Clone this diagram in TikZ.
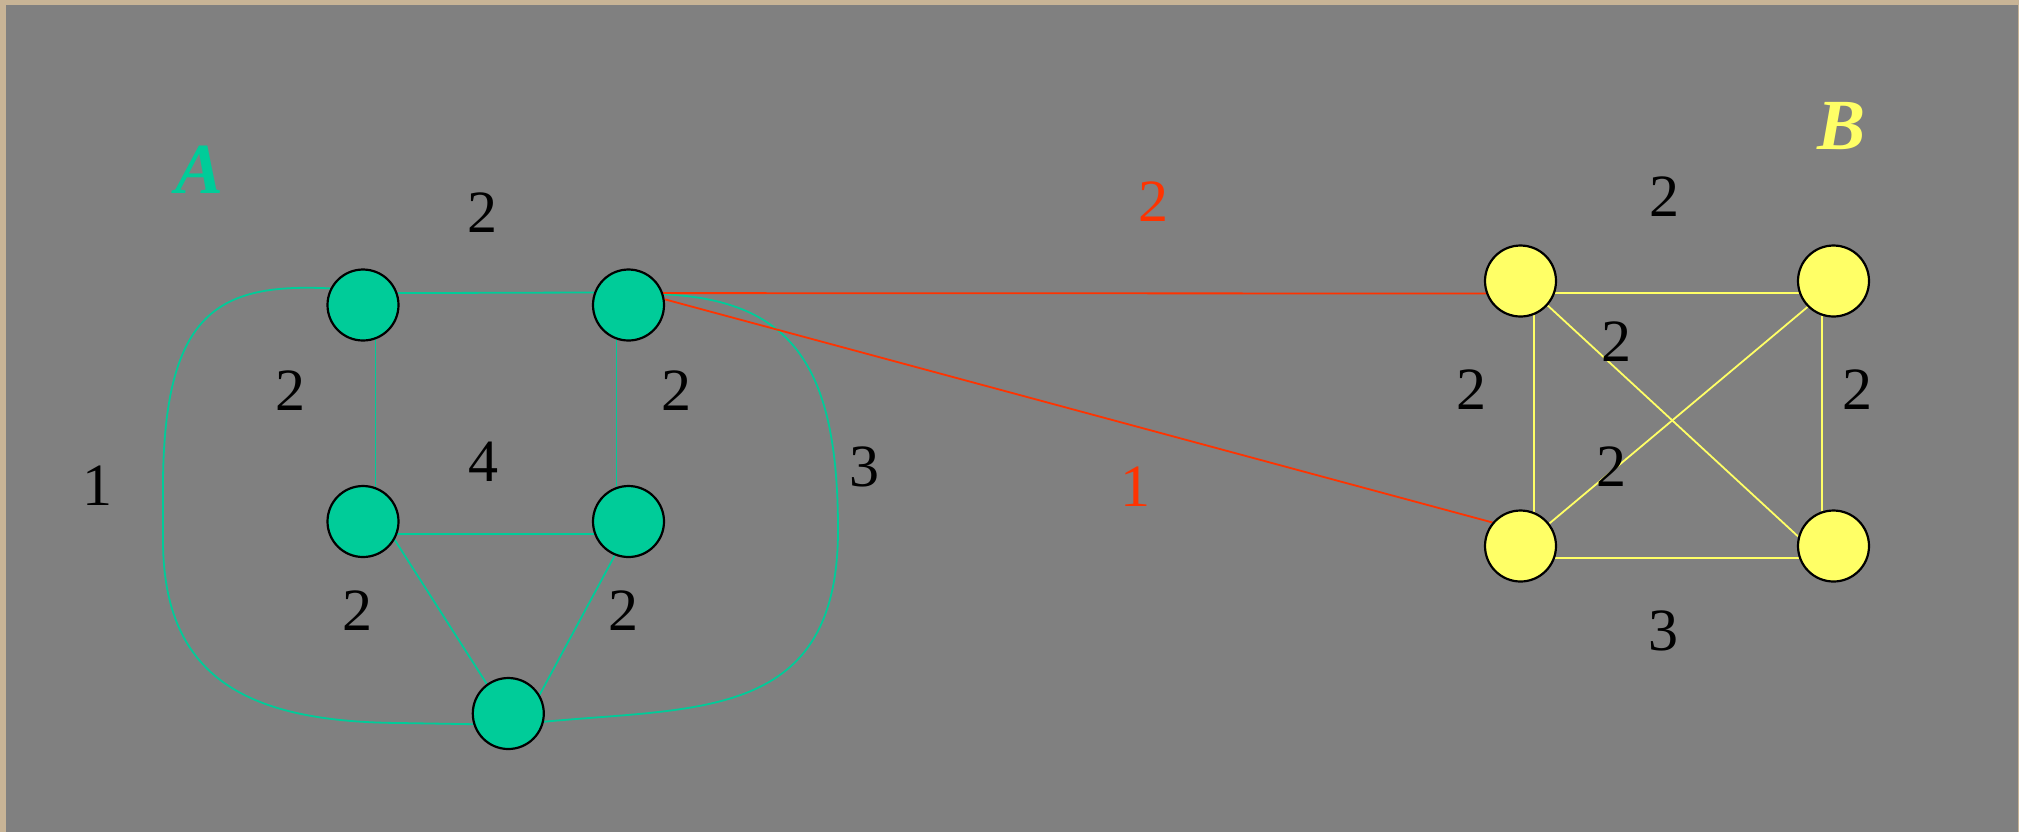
\documentclass[tikz,border=0pt]{standalone}
\usepackage{fontspec}
\setmainfont{Liberation Serif}
\definecolor{bggray}{HTML}{808080}
\definecolor{framecol}{HTML}{C8B496}
\definecolor{nodegreen}{HTML}{00CC99}
\definecolor{nodeyellow}{HTML}{FFFF66}
\definecolor{linkred}{HTML}{FF3300}
\pgfdeclarelayer{bg}
\pgfdeclarelayer{edges}
\pgfsetlayers{bg,edges,main}
\tikzset{
  vert/.style={circle, draw=black, line width=1.1pt, minimum size=35.5pt, inner sep=0pt},
  gvert/.style={vert, fill=nodegreen},
  yvert/.style={vert, fill=nodeyellow},
  gline/.style={draw=nodegreen, line width=0.9pt},
  yline/.style={draw=nodeyellow, line width=0.9pt},
  rline/.style={draw=linkred, line width=0.9pt},
  weight/.style={font=\fontsize{30}{36}\selectfont, anchor=base, inner sep=0pt},
  title/.style={font=\fontsize{36}{42}\selectfont\bfseries\itshape, anchor=base, inner sep=0pt}
}
\begin{document}
\begin{tikzpicture}[x=0.5pt, y=-0.5pt]
\useasboundingbox (0,0) rectangle (2019,832);
\begin{pgfonlayer}{bg}
  \fill[framecol] (0,0) rectangle (2019,832);
  \fill[bggray] (6,5) rectangle (2017.7,832);
\end{pgfonlayer}

% graph A
\node[gvert] (A1) at (363,305) {};
\node[gvert] (A2) at (628.5,305) {};
\node[gvert] (A3) at (363,521.5) {};
\node[gvert] (A4) at (628.5,521.5) {};
\node[gvert] (A5) at (508.3,713.5) {};

% graph B
\node[yvert] (B1) at (1520.5,281) {};
\node[yvert] (B2) at (1833.5,281) {};
\node[yvert] (B3) at (1520.5,546) {};
\node[yvert] (B4) at (1833.5,546) {};

\begin{pgfonlayer}{edges}
  % edges of A
  \draw[gline] (A1.19.5) -- (A2.160.5);
  \draw[gline] (A1.-70) -- (A3.70);
  \draw[gline] (A2.-109) -- (A4.109);
  \draw[gline] (A3.-20) -- (A4.-160);
  \draw[gline] (A3.-30) -- (A5.126);
  \draw[gline] (A4.-112) -- (A5.31);
  % outer curved edges of A
  \draw[gline] (A1.153) .. controls (220,283) and (165,310) .. (163,480)
     -- (163,540) .. controls (163,680) and (250,722) .. (400,723) -- (A5.-163);
  \draw[gline] (A5.-13.5) .. controls (700,707) and (838,720) .. (838,530)
     .. controls (838,370) and (795,300) .. (A2.17);
  % links between A and B
  \draw[rline] (A2.19.5) -- (B1.-160.5);
  \draw[rline] (A2.9) -- (B3.140);
  % edges of B
  \draw[yline] (B1.-19) -- (B2.-161);
  \draw[yline] (B1.-69) -- (B3.69);
  \draw[yline] (B2.-108) -- (B4.108);
  \draw[yline] (B3.-19) -- (B4.-161);
  \draw[yline] (B1.-42) -- (B4.165);
  \draw[yline] (B2.-135) -- (B3.38);
\end{pgfonlayer}

% titles
\node[title, text=nodegreen] (tA) at (200,193) {A};
\node[title, text=nodeyellow] (tB) at (1841,149) {B};

% weights of A
\node[weight] (wA12) at (482,232) {2};
\node[weight] (wA13) at (290,410) {2};
\node[weight] (wA24) at (676,410) {2};
\node[weight] (wAL) at (97.6,505) {1};
\node[weight] (wA34) at (483,481) {4};
\node[weight] (wAR) at (864,486) {3};
\node[weight] (wA35) at (357,630.5) {2};
\node[weight] (wA45) at (623,630.5) {2};

% weights of the links
\node[weight, text=linkred] (wR1) at (1153,221) {2};
\node[weight, text=linkred] (wR2) at (1135,506) {1};

% weights of B
\node[weight] (wB12) at (1664,216) {2};
\node[weight] (wB13) at (1471.5,409) {2};
\node[weight] (wB24) at (1857,409) {2};
\node[weight] (wB14) at (1616,361) {2};
\node[weight] (wB23) at (1611,486) {2};
\node[weight] (wB34) at (1663.5,650) {3};
\end{tikzpicture}
\end{document}
